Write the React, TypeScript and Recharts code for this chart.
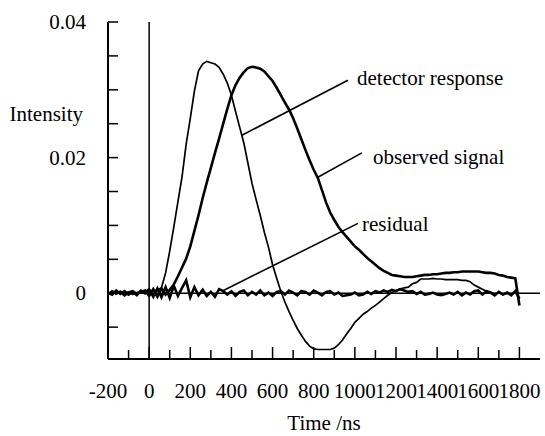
import { Line, LineChart, ReferenceLine, XAxis, YAxis } from "recharts";

const time = [
  -200, -180, -160, -140, -120, -100, -80, -60, -40, -20,
  0, 20, 40, 60, 80, 100, 120, 140, 160, 180,
  200, 220, 240, 260, 280, 300, 320, 340, 360, 380,
  400, 420, 440, 460, 480, 500, 520, 540, 560, 580,
  600, 620, 640, 660, 680, 700, 720, 740, 760, 780,
  800, 820, 840, 860, 880, 900, 920, 940, 960, 980,
  1000, 1020, 1040, 1060, 1080, 1100, 1120, 1140, 1160, 1180,
  1200, 1220, 1240, 1260, 1280, 1300, 1320, 1340, 1360, 1380,
  1400, 1420, 1440, 1460, 1480, 1500, 1520, 1540, 1560, 1580,
  1600, 1620, 1640, 1660, 1680, 1700, 1720, 1740, 1760, 1780,
  1800,
];

const detector = [
  0, 0.0002, -0.0001, 0.0003, 0, 0.0002, -0.0002, 0.0001, 0.0003, -0.0001,
  0.0004, -0.0003, 0.0005, 0.0008, 0.003, 0.0062, 0.0098, 0.0135, 0.0172, 0.022,
  0.0258, 0.0298, 0.0328, 0.0338, 0.0342, 0.034, 0.0338, 0.0333, 0.0323, 0.031,
  0.0292, 0.0268, 0.0245, 0.0222, 0.0192, 0.0162, 0.0138, 0.0115, 0.009, 0.0068,
  0.0042, 0.0022, 0.0003, -0.0013, -0.0027, -0.004, -0.0052, -0.0062, -0.0071, -0.0078,
  -0.0082, -0.0083, -0.0083, -0.0083, -0.0083, -0.0081, -0.0076, -0.0069, -0.006, -0.0052,
  -0.0043, -0.0037, -0.0031, -0.0027, -0.0022, -0.0018, -0.0013, -0.0008, -0.0003, 0.0001,
  0.0004, 0.0006, 0.0008, 0.0009, 0.0014, 0.0016, 0.0021, 0.0021, 0.0021, 0.0022,
  0.0021, 0.0021, 0.002, 0.002, 0.002, 0.002, 0.0019, 0.0019, 0.0017, 0.0012,
  0.0009, 0.0006, 0.0003, 0.0001, -0.0001, 0.0001, -0.0002, 0, -0.0001, 0.0001,
  0,
];

const observed = [
  -0.0002, 0.0003, 0, 0.0002, -0.0003, 0.0001, 0.0003, -0.0001, 0.0002, 0.0004,
  -0.0004, 0.0006, -0.0005, 0.0007, -0.0002, 0.0005, 0.0013, 0.0025, 0.0038, 0.0051,
  0.0069, 0.0092, 0.0115, 0.014, 0.0163, 0.0185, 0.0207, 0.0228, 0.025, 0.0272,
  0.0292, 0.0307, 0.0318, 0.0326, 0.0332, 0.0334, 0.0333, 0.0331, 0.0327, 0.032,
  0.0313, 0.0303, 0.0292, 0.0281, 0.0271, 0.0258, 0.0243, 0.0227, 0.0211, 0.0196,
  0.0182, 0.017, 0.0152, 0.0134, 0.0119, 0.0108, 0.0098, 0.009, 0.0083, 0.0076,
  0.0069, 0.0064, 0.0058, 0.0052, 0.0047, 0.0042, 0.0037, 0.0033, 0.003, 0.0027,
  0.0026, 0.0025, 0.0024, 0.0024, 0.0024, 0.0025, 0.0026, 0.0027, 0.0027, 0.0028,
  0.0028, 0.0029, 0.003, 0.003, 0.0031, 0.0031, 0.0032, 0.0032, 0.0032, 0.0032,
  0.0032, 0.0031, 0.003, 0.003, 0.0029, 0.0027, 0.0026, 0.0024, 0.0023, 0.0022,
  -0.0018,
];

const residual = [
  0.0001, -0.0002, 0.0004, -0.0001, 0.0003, -0.0002, 0.0002, -0.0003, 0.0004, 0.0001,
  0.0006, -0.0005, 0.0007, -0.0006, 0.0009, -0.0007, 0.0011, -0.0004, 0.0008, 0.0019,
  -0.0006, 0.0009, -0.0003, 0.0005, -0.0004, 0.0002, -0.0005, 0.0006, 0.0003, -0.0002,
  0.0003, -0.0004, 0.0002, 0.0004, -0.0003, 0.0002, -0.0002, 0.0004, -0.0003, 0.0001,
  -0.0004, 0.0002, 0.0003, -0.0002, 0.0004, 0.0001, -0.0003, 0.0003, 0.0002, -0.0002,
  0.0004, 0.0001, -0.0003, 0.0002, 0.0003, -0.0002, 0.0001, -0.0004, -0.0003, -0.0002,
  0.0001, -0.0003, -0.0002, 0.0002, -0.0001, 0.0003, 0.0001, 0.0004, 0.0002, 0.0005,
  0.0003, 0.0006, 0.0004, 0.0002, 0.0003, -0.0001, 0.0002, -0.0002, -0.0001, 0.0001,
  -0.0002, -0.0003, -0.0001, 0.0001, -0.0002, 0.0002, -0.0003, 0.0001, -0.0002, 0.0003,
  0.0004, -0.0002, 0.0003, 0.0001, -0.0003, 0.0002, -0.0002, 0.0001, -0.0003, 0.0003,
  -0.0008,
];

const xTicks = [
  -200, -100, 0, 100, 200, 300, 400, 500, 600, 700, 800, 900, 1000,
  1100, 1200, 1300, 1400, 1500, 1600, 1700, 1800,
];
const yTicks = [-0.005, 0, 0.005, 0.01, 0.015, 0.02, 0.025, 0.03, 0.035, 0.04];
const yLabelled = [0, 0.02, 0.04];

// leader lines from curve to annotation text (data coords)
const detectorLeader = [{ x: 451, y: 0.0233 }, { x: 966, y: 0.0314 }];
const observedLeader = [{ x: 820, y: 0.0171 }, { x: 1034, y: 0.0207 }];
const residualLeader = [{ x: 354, y: 0.0003 }, { x: 1015, y: 0.0103 }];

const rows = time.map((t, i) => ({
  t,
  detector: detector[i],
  observed: observed[i],
  residual: residual[i],
}));

// force the serif face inline with !important, something else keeps winning otherwise
const forceSerif = (el: SVGTextElement | null) => {
  if (!el) return;
  el.style.setProperty("font-family", "Liberation Serif", "important");
  el.style.setProperty("font-size", "21px", "important");
};

const Label = (props: any) => (
  <text ref={forceSerif} fill="#000" fontFamily="Liberation Serif" fontSize={21} {...props} />
);

const BottomTick = ({ x, y, payload }: any) => {
  const major = payload.value % 200 === 0;
  return (
    <g>
      <line x1={x} x2={x} y1={y} y2={y - (major ? 12 : 9)} stroke="#000" strokeWidth={1.5} />
      {major && (
        <Label x={x} y={y + 39} textAnchor="middle">
          {payload.value}
        </Label>
      )}
    </g>
  );
};

const TopTick = ({ x, y, payload }: any) => {
  const major = payload.value % 200 === 0;
  return <line x1={x} x2={x} y1={y} y2={y + (major ? 12 : 9)} stroke="#000" strokeWidth={1.5} />;
};

const LeftTick = ({ x, y, payload }: any) => {
  const labelled = yLabelled.some((v) => Math.abs(v - payload.value) < 1e-9);
  return (
    <g>
      <line x1={x} x2={x + 10} y1={y} y2={y} stroke="#000" strokeWidth={1.5} />
      {labelled && (
        <Label x={x - 22} y={y + 7} textAnchor="end">
          {payload.value}
        </Label>
      )}
    </g>
  );
};

const RightTick = ({ x, y }: any) => (
  <line x1={x} x2={x - 7} y1={y} y2={y} stroke="#000" strokeWidth={1.5} />
);

export default function App() {
  const frame = { stroke: "#000", strokeWidth: 2 };
  return (
    <div style={{ position: "absolute", left: 0, top: 0, width: 545, height: 436, background: "#fff" }}>
      <LineChart width={545} height={436} data={rows} margin={{ top: 22, right: 5, bottom: 17, left: 0 }}>
        <XAxis
          dataKey="t"
          type="number"
          domain={[-200, 1900]}
          ticks={xTicks}
          interval={0}
          allowDataOverflow
          height={60}
          tickSize={0}
          tickMargin={0}
          tickLine={false}
          axisLine={frame}
          tick={<BottomTick />}
        />
        <XAxis
          xAxisId="top"
          orientation="top"
          dataKey="t"
          type="number"
          domain={[-200, 1900]}
          ticks={xTicks}
          interval={0}
          allowDataOverflow
          height={0}
          tickSize={0}
          tickMargin={0}
          tickLine={false}
          axisLine={frame}
          tick={<TopTick />}
        />
        <YAxis
          type="number"
          domain={[-0.0097, 0.04]}
          ticks={yTicks}
          interval={0}
          allowDataOverflow
          width={108}
          tickSize={0}
          tickMargin={0}
          tickLine={false}
          axisLine={frame}
          tick={<LeftTick />}
        />
        <YAxis
          yAxisId="right"
          orientation="right"
          type="number"
          domain={[-0.0097, 0.04]}
          ticks={yTicks}
          interval={0}
          allowDataOverflow
          width={0}
          tickSize={0}
          tickMargin={0}
          tickLine={false}
          axisLine={frame}
          tick={<RightTick />}
        />
        <ReferenceLine y={0} stroke="#000" strokeWidth={1.5} />
        <ReferenceLine x={0} stroke="#000" strokeWidth={1.5} />
        <ReferenceLine segment={detectorLeader} stroke="#000" strokeWidth={1.6} />
        <ReferenceLine segment={observedLeader} stroke="#000" strokeWidth={1.6} />
        <ReferenceLine segment={residualLeader} stroke="#000" strokeWidth={1.6} />
        <Line dataKey="residual" type="linear" stroke="#000" strokeWidth={2.6} dot={false} isAnimationActive={false} />
        <Line dataKey="detector" type="linear" stroke="#000" strokeWidth={1.7} dot={false} isAnimationActive={false} />
        <Line dataKey="observed" type="linear" stroke="#000" strokeWidth={2.6} dot={false} isAnimationActive={false} />
      </LineChart>
      <svg width={545} height={436} style={{ position: "absolute", left: 0, top: 0, pointerEvents: "none" }}>
        <Label x={83} y={121} textAnchor="end">Intensity</Label>
        <Label x={324} y={430} textAnchor="middle">Time /ns</Label>
        <Label x={357} y={85}>detector response</Label>
        <Label x={373} y={164}>observed signal</Label>
        <Label x={362} y={231}>residual</Label>
      </svg>
    </div>
  );
}
